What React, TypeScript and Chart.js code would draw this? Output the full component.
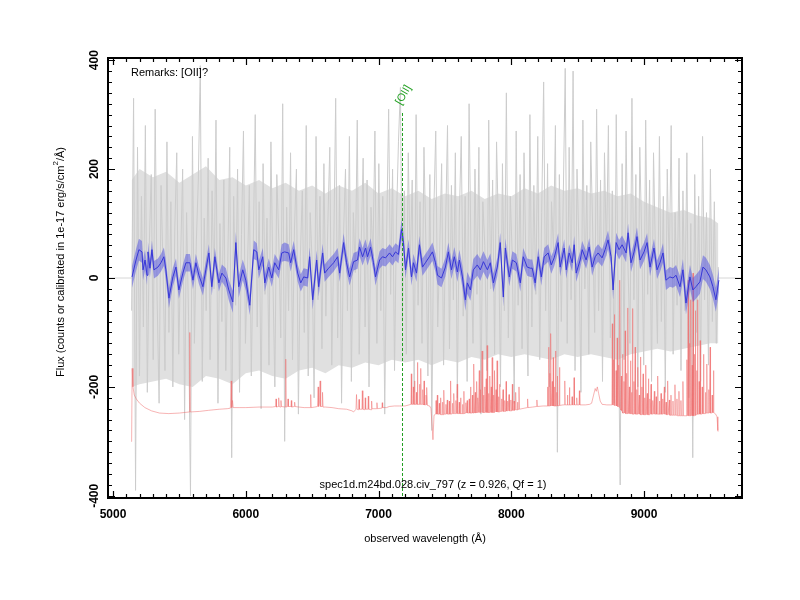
import React, { useEffect, useRef } from "react";
import { Chart, registerables } from "chart.js";

Chart.register(...registerables);

// ---------- data ----------
// raw 1D spectrum (gray): uniform wavelength grid
const GRAY_START = 5140;
const GRAY_STEP = 14.78;
const GRAY_FLUX = [
  -60, 330, -390, 240, -180, 150, -90, 280, -210, 60, 190, -150, 310, -40, -230, 170, 20, -170, 250, -100,
  140, -200, 90, 230, -140, 40, 200, -260, 120, -70, -400, 260, -120, 70, 180, 390, -190, 110, -60, 220,
  -150, 160, -20, 290, -230, 100, -80, 180, -170, 30, 240, -330, 150, -50, 200, -210, 80, 270, -120, 10,
  170, -180, 60, 300, -90, 140, -240, 210, -30, 110, -160, 250, 0, -200, 190, 70, -110, 320, -300, 130,
  -60, 230, -150, 90, 200, -250, 40, 160, -100, 280, -180, 120, 30, -220, 260, -40, 150, -130, 210, -70,
  100, 240, -160, 50, 330, -110, 170, -230, 80, 200, -60, 260, -190, 120, 10, 290, -140, 60, 220, -90,
  180, -200, 130, 40, 270, -120, 210, -60, 150, -250, 90, 310, -30, 200, -170, 110, 250, 350, -80, 160,
  -140, 230, 20, 180, -210, 300, -50, 140, -120, 240, 60, -180, 190, -280, 120, 270, -90, 50, 210, -160,
  90, 280, -130, 170, -40, 230, -220, 110, 260, -70, 150, -190, 320, 30, -120, 200, -30, 240, -250, 140,
  60, -170, 290, -20, 180, -140, 250, 80, -200, 210, -60, 340, -110, 150, 40, -230, 270, -50, 190, -130,
  230, 20, -180, 300, -90, 170, -30, 260, -150, 120, 360, -60, 210, -200, 140, 50, 280, -320, 190, -80,
  150, 385, -120, 240, -40, 380, -170, 200, 60, -210, 290, -20, 170, -140, 250, 90, -100, 310, -60, 180,
  -190, 230, 40, 280, -110, 160, -230, 300, -60, -380, 210, -150, 270, 20, -120, 330, -40, 190, -200, 240,
  70, -160, 290, -30, 180, -190, 230, 40, -120, 260, -80, 150, -210, 200, 10, 280, -140, 120, -50, 220,
  -170, 160, -60, 230, -220, 100, -330, 190, -100, 150, -190, 260, -40, 120, -160, 200, -80, 140, -120, 20,
];

// dense scatter range of the raw spectrum: [wavelength, upper, lower]
const GRAY_CORE: [number, number, number][] = [
  [5140, 180, -200], [5200, 200, -195], [5300, 185, -190], [5400, 195, -185], [5500, 175, -195],
  [5600, 190, -200], [5700, 205, -180], [5800, 180, -185], [5900, 185, -195], [6000, 170, -175],
  [6100, 180, -170], [6200, 165, -180], [6300, 175, -185], [6400, 160, -170], [6500, 170, -165],
  [6600, 155, -175], [6700, 170, -160], [6800, 160, -165], [6900, 175, -155], [7000, 155, -160],
  [7100, 165, -150], [7200, 150, -155], [7300, 160, -150], [7400, 145, -160], [7500, 155, -150],
  [7600, 150, -155], [7700, 160, -145], [7800, 145, -150], [7900, 155, -140], [8000, 150, -145],
  [8100, 165, -140], [8200, 155, -145], [8300, 170, -150], [8400, 160, -140], [8500, 165, -145],
  [8600, 155, -140], [8700, 160, -145], [8800, 150, -150], [8900, 155, -140], [9000, 140, -135],
  [9100, 130, -130], [9200, 120, -135], [9300, 125, -130], [9400, 115, -125], [9500, 110, -120],
  [9560, 100, -120],
];

// smoothed spectrum (blue): [wavelength, flux, error]
const BLUE_SPEC: [number, number, number][] = [
  [5143, 2, 20], [5173, 33, 20], [5195, 52, 20], [5218, 48, 20], [5226, 15, 19], [5241, 33, 19],
  [5256, 5, 18], [5263, 48, 18], [5278, 18, 17], [5293, 52, 17], [5308, 15, 16], [5338, 20, 16],
  [5361, 28, 16], [5383, 39, 17], [5398, 15, 18], [5421, -37, 18], [5451, 2, 17], [5474, 20, 16],
  [5496, -22, 16], [5526, 9, 16], [5549, 28, 16], [5579, 28, 16], [5602, -4, 16], [5624, 28, 16],
  [5647, 5, 16], [5677, -16, 16], [5699, 15, 16], [5722, 46, 16], [5744, -16, 16], [5767, 39, 16],
  [5797, -9, 16], [5820, 9, 16], [5850, 0, 18], [5872, -22, 19], [5902, -44, 20], [5925, 65, 20],
  [5947, -16, 20], [5977, 15, 19], [6000, -4, 19], [6030, -50, 18], [6060, 52, 17], [6083, 48, 16],
  [6098, 15, 16], [6128, 39, 16], [6143, -9, 16], [6173, 20, 16], [6196, 0, 16], [6218, 28, 16],
  [6248, 15, 16], [6271, 46, 16], [6293, 48, 17], [6323, 46, 16], [6338, 28, 16], [6361, 52, 16],
  [6391, 9, 16], [6414, -9, 16], [6436, 2, 16], [6466, 0, 16], [6481, 39, 17], [6504, -40, 18],
  [6534, 33, 18], [6549, -16, 18], [6579, 46, 17], [6594, 9, 16], [6624, 18, 16], [6662, 28, 16],
  [6692, 39, 16], [6707, 9, 16], [6737, 65, 17], [6759, 28, 17], [6782, 2, 16], [6812, 30, 16],
  [6842, 33, 16], [6857, 57, 16], [6880, 39, 16], [6902, 55, 16], [6917, 39, 16], [6940, 57, 16],
  [6962, 28, 16], [6977, 2, 16], [7008, 33, 16], [7030, 39, 16], [7053, 37, 16], [7083, 46, 16],
  [7105, 39, 16], [7128, 48, 16], [7150, 43, 16], [7173, 89, 17], [7188, 65, 17], [7203, 15, 16],
  [7226, 55, 16], [7248, 2, 16], [7263, 28, 16], [7286, 9, 16], [7308, 61, 16], [7331, 20, 16],
  [7353, 28, 16], [7383, 39, 16], [7406, 48, 17], [7429, 28, 17], [7444, 5, 17], [7474, 0, 17],
  [7504, 20, 17], [7526, 48, 17], [7549, 15, 17], [7571, 39, 18], [7594, 11, 18], [7609, 33, 19],
  [7632, 2, 20], [7654, -40, 20], [7669, -9, 20], [7692, -22, 20], [7714, 15, 20], [7744, 24, 20],
  [7767, 15, 20], [7790, 30, 19], [7820, 15, 18], [7842, 28, 17], [7865, -9, 17], [7895, 20, 17],
  [7917, 65, 18], [7940, -35, 18], [7955, 55, 18], [7985, 2, 17], [8008, 33, 16], [8038, 28, 16],
  [8068, -9, 16], [8090, 39, 16], [8120, 20, 16], [8143, 18, 16], [8158, 18, 16], [8180, -9, 16],
  [8203, 39, 16], [8226, 2, 16], [8248, 39, 16], [8278, 46, 16], [8301, 24, 16], [8323, 37, 16],
  [8353, 65, 17], [8368, 20, 17], [8399, 55, 16], [8414, 15, 16], [8436, 46, 16], [8459, 28, 16],
  [8474, 61, 16], [8489, 9, 16], [8519, 33, 16], [8534, 52, 16], [8564, 33, 16], [8587, 57, 16],
  [8609, 20, 16], [8632, 39, 16], [8654, 46, 16], [8684, 37, 16], [8707, 52, 17], [8729, 70, 17],
  [8752, 39, 17], [8767, -22, 18], [8790, 65, 18], [8812, 52, 18], [8835, 61, 17], [8865, 46, 17],
  [8880, 83, 17], [8902, 28, 17], [8925, 48, 17], [8947, 76, 17], [8970, 33, 17], [9000, 48, 17],
  [9023, 65, 17], [9045, 20, 17], [9075, 55, 17], [9098, 15, 17], [9120, 28, 17], [9143, 46, 18],
  [9165, -4, 18], [9195, 2, 18], [9218, 0, 18], [9241, 5, 19], [9271, -16, 19], [9293, 15, 20],
  [9316, -46, 21], [9346, 2, 22], [9368, -22, 22], [9391, -16, 22], [9421, -7, 22], [9444, 20, 22],
  [9466, 15, 22], [9496, 2, 22], [9519, -16, 22], [9541, -40, 22], [9564, -4, 22],
];

// sky / noise spectrum (red), offset: [wavelength, value]
const RED_SPEC: [number, number][] = [
  [5136, -300], [5140, -298], [5144, -166], [5150, -200], [5160, -215], [5175, -222], [5200, -230],
  [5240, -238], [5290, -244], [5350, -248], [5420, -249], [5500, -248], [5575, -246], [5578, -100],
  [5581, -246], [5650, -245], [5720, -243], [5800, -241], [5860, -240], [5884, -239], [5890, -189],
  [5894, -238], [5900, -225], [5905, -238], [5950, -238], [6000, -238], [6100, -237], [6200, -237],
  [6225, -236], [6228, -222], [6231, -237], [6245, -236], [6248, -220], [6251, -236], [6262, -237],
  [6265, -225], [6268, -236], [6298, -237], [6301, -149], [6304, -237], [6315, -236], [6318, -222],
  [6321, -236], [6340, -236], [6343, -225], [6346, -237], [6365, -236], [6368, -228], [6371, -236],
  [6400, -237], [6440, -238], [6486, -238], [6489, -214], [6492, -238], [6520, -237], [6540, -236],
  [6545, -200], [6549, -236], [6555, -230], [6560, -189], [6564, -236], [6575, -236], [6578, -210],
  [6582, -237], [6600, -237], [6650, -238], [6700, -240], [6760, -241], [6800, -244], [6812, -246],
  [6830, -241], [6834, -214], [6838, -241], [6850, -242], [6853, -223], [6856, -241], [6875, -241],
  [6878, -207], [6882, -241], [6897, -242], [6900, -220], [6903, -241], [6920, -241], [6923, -217],
  [6926, -241], [6945, -242], [6948, -226], [6951, -240], [6985, -240], [6988, -229], [6991, -240],
  [7025, -239], [7028, -229], [7031, -238], [7060, -238], [7080, -236], [7120, -235], [7160, -235],
  [7200, -235], [7230, -233], [7244, -232], [7247, -176], [7250, -232], [7259, -232], [7262, -200],
  [7265, -232], [7268, -232], [7271, -189], [7274, -232], [7282, -232], [7285, -210], [7288, -232],
  [7290, -232], [7293, -155], [7296, -232], [7306, -232], [7309, -195], [7312, -232], [7315, -232],
  [7318, -166], [7321, -232], [7330, -232], [7333, -205], [7336, -232], [7340, -233], [7343, -189],
  [7346, -233], [7355, -233], [7358, -215], [7361, -233], [7362, -233], [7365, -201], [7368, -234],
  [7385, -235], [7395, -240], [7410, -297], [7418, -252], [7430, -250], [7433, -225], [7436, -250],
  [7440, -250], [7443, -215], [7446, -250], [7455, -250], [7458, -230], [7461, -250], [7465, -251],
  [7468, -220], [7471, -251], [7480, -251], [7483, -228], [7486, -251], [7490, -250], [7493, -206],
  [7496, -250], [7505, -250], [7508, -232], [7511, -250], [7515, -250], [7518, -224], [7521, -250],
  [7530, -250], [7533, -226], [7536, -250], [7540, -250], [7543, -189], [7546, -250], [7555, -249],
  [7558, -230], [7561, -249], [7565, -249], [7568, -212], [7571, -249], [7580, -249], [7583, -225],
  [7586, -249], [7590, -249], [7593, -195], [7596, -249], [7605, -249], [7608, -228], [7611, -249],
  [7615, -249], [7618, -220], [7621, -249], [7630, -249], [7633, -232], [7636, -249], [7640, -249],
  [7643, -208], [7646, -249], [7655, -248], [7658, -229], [7661, -248], [7665, -248], [7668, -225],
  [7671, -248], [7680, -248], [7683, -222], [7686, -248], [7690, -248], [7693, -200], [7696, -248],
  [7704, -248], [7707, -215], [7710, -248], [7712, -248], [7717, -158], [7722, -248], [7726, -248],
  [7729, -210], [7732, -248], [7735, -247], [7739, -190], [7743, -247], [7746, -247], [7749, -220],
  [7752, -247], [7755, -247], [7759, -170], [7763, -247], [7766, -247], [7769, -205], [7772, -247],
  [7775, -247], [7780, -134], [7785, -247], [7788, -247], [7791, -215], [7794, -247], [7797, -247],
  [7801, -200], [7805, -247], [7808, -247], [7811, -185], [7814, -247], [7815, -247], [7818, -124],
  [7822, -247], [7826, -247], [7829, -212], [7832, -247], [7835, -247], [7838, -180], [7842, -247],
  [7846, -247], [7849, -200], [7852, -247], [7853, -247], [7856, -146], [7860, -247], [7864, -247],
  [7867, -215], [7870, -247], [7872, -246], [7875, -170], [7879, -246], [7882, -246], [7885, -205],
  [7888, -246], [7890, -246], [7893, -152], [7897, -246], [7901, -246], [7904, -218], [7907, -246],
  [7910, -246], [7913, -195], [7917, -245], [7925, -245], [7928, -222], [7931, -245], [7935, -245],
  [7938, -205], [7941, -245], [7948, -245], [7951, -225], [7954, -245], [7958, -244], [7961, -190],
  [7964, -244], [7970, -244], [7973, -226], [7976, -244], [7980, -244], [7983, -214], [7986, -244],
  [7994, -244], [7997, -224], [8000, -244], [8005, -243], [8008, -195], [8011, -243], [8018, -243],
  [8021, -226], [8024, -243], [8030, -242], [8033, -210], [8036, -242], [8044, -242], [8047, -228],
  [8050, -242], [8055, -241], [8058, -200], [8061, -241], [8100, -239], [8120, -238], [8123, -222],
  [8126, -238], [8160, -237], [8190, -236], [8193, -224], [8196, -236], [8240, -235], [8262, -235],
  [8270, -235], [8273, -200], [8276, -235], [8278, -235], [8281, -127], [8284, -235], [8288, -235],
  [8291, -175], [8294, -235], [8295, -235], [8298, -102], [8301, -235], [8306, -235], [8309, -190],
  [8312, -235], [8313, -235], [8316, -146], [8319, -235], [8323, -235], [8326, -200], [8329, -235],
  [8330, -235], [8333, -134], [8336, -235], [8340, -235], [8343, -210], [8346, -235], [8348, -180],
  [8352, -235], [8356, -235], [8360, -234], [8363, -164], [8366, -234], [8390, -233], [8400, -233],
  [8403, -189], [8406, -233], [8420, -233], [8423, -215], [8426, -233], [8435, -233], [8438, -201],
  [8441, -233], [8455, -233], [8458, -218], [8461, -233], [8470, -233], [8473, -183], [8476, -233],
  [8490, -233], [8493, -220], [8496, -233], [8510, -233], [8513, -207], [8516, -233], [8560, -233],
  [8590, -232], [8605, -230], [8620, -215], [8632, -203], [8640, -208], [8648, -200], [8658, -212],
  [8670, -226], [8684, -232], [8720, -233], [8750, -233], [8758, -233], [8761, -84], [8764, -233],
  [8768, -233], [8771, -150], [8774, -233], [8775, -233], [8778, -67], [8781, -234], [8786, -234],
  [8789, -170], [8792, -235], [8795, -235], [8798, -110], [8801, -236], [8806, -236], [8809, -160],
  [8812, -237], [8815, -238], [8818, -4], [8821, -240], [8826, -242], [8829, -180], [8832, -244],
  [8835, -245], [8838, -140], [8841, -248], [8846, -248], [8849, -190], [8852, -248], [8855, -248],
  [8858, -97], [8861, -249], [8866, -249], [8869, -175], [8872, -249], [8876, -249], [8879, -55],
  [8882, -249], [8886, -249], [8889, -200], [8892, -249], [8895, -249], [8898, -152], [8901, -249],
  [8904, -249], [8907, -210], [8908, -249], [8910, -249], [8913, -56], [8916, -250], [8921, -250],
  [8924, -190], [8927, -250], [8930, -250], [8933, -127], [8936, -250], [8941, -250], [8944, -205],
  [8947, -250], [8950, -250], [8953, -164], [8956, -250], [8961, -250], [8964, -215], [8967, -250],
  [8970, -250], [8973, -145], [8976, -251], [8981, -251], [8984, -200], [8987, -251], [8990, -251],
  [8993, -176], [8996, -251], [9001, -251], [9004, -220], [9007, -251], [9010, -251], [9013, -160],
  [9016, -251], [9021, -251], [9024, -212], [9027, -251], [9030, -251], [9033, -185], [9036, -251],
  [9041, -251], [9044, -222], [9047, -250], [9050, -250], [9053, -195], [9056, -250], [9063, -250],
  [9066, -225], [9069, -250], [9075, -250], [9078, -208], [9081, -250], [9088, -250], [9091, -218],
  [9094, -250], [9100, -250], [9103, -180], [9106, -250], [9113, -250], [9116, -226], [9119, -250],
  [9125, -250], [9128, -212], [9131, -250], [9138, -250], [9141, -222], [9144, -250], [9150, -250],
  [9153, -200], [9156, -250], [9163, -250], [9166, -228], [9169, -251], [9175, -251], [9178, -189],
  [9181, -251], [9188, -251], [9191, -224], [9194, -252], [9200, -252], [9203, -215], [9206, -252],
  [9215, -252], [9218, -226], [9221, -252], [9230, -252], [9233, -196], [9236, -252], [9245, -252],
  [9248, -222], [9251, -253], [9260, -253], [9263, -208], [9266, -253], [9275, -253], [9278, -225],
  [9281, -253], [9290, -253], [9293, -190], [9296, -253], [9310, -253], [9320, -253], [9323, -150],
  [9326, -253], [9330, -253], [9333, -4], [9336, -253], [9341, -253], [9344, -120], [9347, -253],
  [9350, -253], [9353, -40], [9356, -253], [9360, -253], [9363, -160], [9366, -253], [9369, 9],
  [9372, -253], [9378, -253], [9381, -140], [9384, -252], [9385, -252], [9388, -60], [9391, -252],
  [9395, -251], [9398, -170], [9400, -250], [9403, -40], [9406, -250], [9412, -250], [9415, -190],
  [9418, -250], [9420, -250], [9423, -115], [9426, -250], [9435, -250], [9438, -200], [9441, -249],
  [9445, -249], [9448, -140], [9451, -249], [9460, -249], [9463, -210], [9466, -248], [9470, -248],
  [9473, -158], [9476, -248], [9485, -248], [9488, -205], [9491, -248], [9495, -248], [9498, -127],
  [9501, -248], [9510, -248], [9513, -215], [9516, -247], [9520, -247], [9523, -170], [9526, -247],
  [9540, -250], [9550, -255], [9556, -280], [9558, -282],
];

const X_TICKS = [5000, 6000, 7000, 8000, 9000];
const Y_TICKS = [-400, -200, 0, 200, 400];
const X_MIN = 4962;
const X_MAX = 9738;
const Y_MIN = -404;
const Y_MAX = 404;
const LINE_WAVE = 7178;
const LINE_TOP = 303;
const LINE_LABEL = "[OII]";
const REMARKS = "Remarks: [OII]?";
const TITLE = "spec1d.m24bd.028.civ_797 (z = 0.926, Qf = 1)";
const X_TITLE = "observed wavelength (Å)";
const Y_TITLE_A = "Flux (counts or calibrated in 1e-17 erg/s/cm";
const Y_TITLE_SUP = "2";
const Y_TITLE_B = "/Å)";

const FONT = '"Liberation Sans", Arial, Helvetica, sans-serif';

const decorPlugin = {
  id: "decor",
  beforeDatasetsDraw(chart: any) {
    const { ctx, chartArea: a, scales } = chart;
    const y0 = scales.y.getPixelForValue(0);
    ctx.save();
    ctx.strokeStyle = "#d6d6d6";
    ctx.lineWidth = 1;
    ctx.beginPath();
    ctx.moveTo(a.left, y0);
    ctx.lineTo(a.right, y0);
    ctx.stroke();
    ctx.restore();
  },
  afterDatasetsDraw(chart: any) {
    const { ctx, chartArea: a, scales } = chart;
    const xs = scales.x;
    const ys = scales.y;
    ctx.save();
    // emission line marker
    const px = Math.round(xs.getPixelForValue(LINE_WAVE)) + 0.5;
    const pyTop = ys.getPixelForValue(LINE_TOP);
    ctx.strokeStyle = "#22a022";
    ctx.lineWidth = 1;
    ctx.setLineDash([3, 2]);
    ctx.beginPath();
    ctx.moveTo(px, pyTop);
    ctx.lineTo(px, a.bottom);
    ctx.stroke();
    ctx.setLineDash([]);
    ctx.save();
    ctx.translate(px + 1, pyTop - 18);
    ctx.rotate(-Math.PI / 3);
    ctx.fillStyle = "#22a022";
    ctx.font = `11px ${FONT}`;
    ctx.textAlign = "center";
    ctx.textBaseline = "middle";
    ctx.fillText(LINE_LABEL, 0, 0);
    ctx.restore();

    // frame
    ctx.strokeStyle = "#000";
    ctx.lineWidth = 2;
    ctx.strokeRect(a.left, a.top, a.right - a.left, a.bottom - a.top);

    // ticks
    ctx.lineWidth = 1.2;
    ctx.beginPath();
    for (let v = 5000; v <= X_MAX; v += 100) {
      const p = Math.round(xs.getPixelForValue(v)) + 0.5;
      const len = v % 1000 === 0 ? 7 : 4;
      ctx.moveTo(p, a.bottom);
      ctx.lineTo(p, a.bottom - len);
      ctx.moveTo(p, a.top);
      ctx.lineTo(p, a.top + len);
    }
    for (let v = -400; v <= 400; v += 20) {
      const p = Math.round(ys.getPixelForValue(v)) + 0.5;
      const len = v % 200 === 0 ? 7 : 4;
      ctx.moveTo(a.left, p);
      ctx.lineTo(a.left + len, p);
      ctx.moveTo(a.right, p);
      ctx.lineTo(a.right - len, p);
    }
    ctx.stroke();

    // tick labels
    ctx.fillStyle = "#000";
    ctx.font = `bold 12px ${FONT}`;
    ctx.textAlign = "center";
    ctx.textBaseline = "middle";
    for (const t of X_TICKS) {
      ctx.fillText(String(t), xs.getPixelForValue(t), a.bottom + 17);
    }
    for (const t of Y_TICKS) {
      ctx.save();
      ctx.translate(a.left - 13, ys.getPixelForValue(t));
      ctx.rotate(-Math.PI / 2);
      ctx.fillText(String(t), 0, 0);
      ctx.restore();
    }

    // texts
    ctx.font = `11px ${FONT}`;
    ctx.textAlign = "left";
    ctx.fillText(REMARKS, a.left + 23, a.top + 15);
    ctx.textAlign = "center";
    ctx.fillText(TITLE, 433, a.bottom - 13);
    ctx.fillText(X_TITLE, (a.left + a.right) / 2, a.bottom + 41);

    // y title with superscript
    ctx.save();
    ctx.translate(61, 262);
    ctx.rotate(-Math.PI / 2);
    ctx.font = `11px ${FONT}`;
    const wA = ctx.measureText(Y_TITLE_A).width;
    const wB = ctx.measureText(Y_TITLE_B).width;
    ctx.font = `8px ${FONT}`;
    const wS = ctx.measureText(Y_TITLE_SUP).width;
    const total = wA + wS + wB;
    let cx = -total / 2;
    ctx.textAlign = "left";
    ctx.font = `11px ${FONT}`;
    ctx.fillText(Y_TITLE_A, cx, 0);
    cx += wA;
    ctx.font = `8px ${FONT}`;
    ctx.fillText(Y_TITLE_SUP, cx, -5);
    cx += wS;
    ctx.font = `11px ${FONT}`;
    ctx.fillText(Y_TITLE_B, cx, 0);
    ctx.restore();

    ctx.restore();
  },
};

export default function App() {
  const ref = useRef<HTMLCanvasElement | null>(null);

  useEffect(() => {
    if (!ref.current) return;
    const grayData = GRAY_FLUX.map((f, i) => ({ x: GRAY_START + i * GRAY_STEP, y: f }));
    const coreHi = GRAY_CORE.map(([w, h]) => ({ x: w, y: h }));
    const coreLo = GRAY_CORE.map(([w, , l]) => ({ x: w, y: l }));
    const blueData = BLUE_SPEC.map(([w, f]) => ({ x: w, y: f }));
    const upper = BLUE_SPEC.map(([w, f, e]) => ({ x: w, y: f + e }));
    const lower = BLUE_SPEC.map(([w, f, e]) => ({ x: w, y: f - e }));
    const redData = RED_SPEC.map(([w, f]) => ({ x: w, y: f }));

    const common = { pointRadius: 0, pointHoverRadius: 0, tension: 0 };
    const chart = new Chart(ref.current, {
      type: "line",
      data: {
        datasets: [
          { ...common, data: blueData, borderColor: "rgb(55,55,215)", borderWidth: 1, fill: false, order: 1 },
          {
            ...common,
            data: upper,
            borderColor: "rgba(0,0,0,0)",
            borderWidth: 0,
            backgroundColor: "rgba(80,80,225,0.5)",
            fill: "+1",
            order: 2,
          },
          { ...common, data: lower, borderColor: "rgba(0,0,0,0)", borderWidth: 0, fill: false, order: 3 },
          { ...common, data: redData, borderColor: "rgba(240,110,110,0.65)", borderWidth: 0.8, fill: false, order: 4 },
          { ...common, data: grayData, borderColor: "rgb(204,204,204)", borderWidth: 1, fill: false, order: 6 },
          {
            ...common,
            data: coreHi,
            borderColor: "rgba(0,0,0,0)",
            borderWidth: 0,
            backgroundColor: "rgb(224,224,224)",
            fill: "+1",
            order: 7,
          },
          { ...common, data: coreLo, borderColor: "rgba(0,0,0,0)", borderWidth: 0, fill: false, order: 8 },
        ],
      },
      options: {
        animation: false,
        responsive: false,
        maintainAspectRatio: false,
        events: [],
        layout: { padding: { left: 108, top: 58, right: 58, bottom: 102 } },
        plugins: { legend: { display: false }, tooltip: { enabled: false }, title: { display: false } },
        scales: {
          x: { type: "linear", min: X_MIN, max: X_MAX, display: false },
          y: { type: "linear", min: Y_MIN, max: Y_MAX, display: false },
        },
      },
      plugins: [decorPlugin],
    });
    return () => chart.destroy();
  }, []);

  return (
    <div style={{ position: "absolute", left: 0, top: 0, width: 800, height: 600, background: "#fff" }}>
      <canvas ref={ref} width={800} height={600} style={{ width: 800, height: 600, display: "block" }} />
    </div>
  );
}
